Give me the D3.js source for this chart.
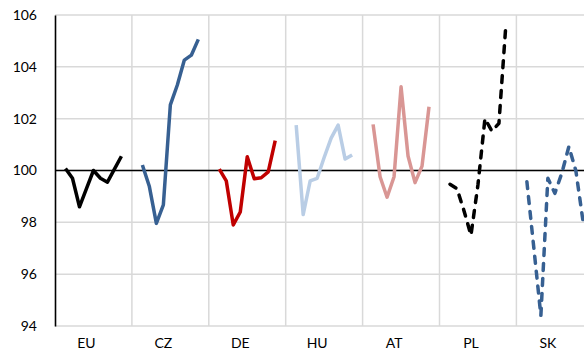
<!DOCTYPE html>
<html>
<head>
<meta charset="utf-8">
<script src="https://cdn.jsdelivr.net/npm/d3@7"></script>
<style>
  html, body { margin: 0; padding: 0; background: #fff; }
  svg { display: block; font-family: Lato, "Open Sans", sans-serif; }
</style>
</head>
<body>
<svg id="chart"></svg>
<script>
// Panels (countries) and their 9 observations each
const groups = ['EU', 'CZ', 'DE', 'HU', 'AT', 'PL', 'SK'];

const euValues = [100.08, 99.7, 98.6, 99.3, 100.0, 99.7, 99.55, 100.05, 100.55];
const czValues = [100.21, 99.38, 97.96, 98.67, 102.53, 103.3, 104.26, 104.45, 105.06];
const deValues = [100.05, 99.6, 97.9, 98.4, 100.53, 99.68, 99.72, 99.95, 101.15];
const huValues = [101.75, 98.3, 99.6, 99.7, 100.5, 101.25, 101.75, 100.44, 100.6];
const atValues = [101.78, 99.76, 98.97, 99.76, 103.23, 100.56, 99.53, 100.17, 102.46];
const plValues = [99.47, 99.3, 98.45, 97.5, 99.45, 102.0, 101.52, 101.82, 105.64];
const skValues = [99.57, 97.0, 94.4, 99.7, 99.12, 99.9, 100.92, 100.0, 98.1];

const yTicks = [94, 96, 98, 100, 102, 104, 106];

const series = [
    { key: 'EU', values: euValues, color: '#000000', dashed: false },
    { key: 'CZ', values: czValues, color: '#376092', dashed: false },
    { key: 'DE', values: deValues, color: '#C00000', dashed: false },
    { key: 'HU', values: huValues, color: '#B9CDE5', dashed: false },
    { key: 'AT', values: atValues, color: '#D99694', dashed: false },
    { key: 'PL', values: plValues, color: '#000000', dashed: true },
    { key: 'SK', values: skValues, color: '#376092', dashed: true }
];

const W = 584, H = 356;
const M = { left: 55, top: 15, bottom: 30 };
const panelW = 76.9;
const SLOTS = 11;   // 9 points plus an empty slot on each side

const svg = d3.select('#chart').attr('width', W).attr('height', H);

const x = d3.scaleBand()
    .domain(groups)
    .range([M.left, M.left + groups.length * panelW]);

const slot = d3.scaleBand()
    .domain(d3.range(SLOTS))
    .range([0, panelW]);

const y = d3.scaleLinear()
    .domain([94, 106])
    .range([H - M.bottom, M.top]);

const px = (g, i) => x(g) + slot(i + 1) + slot.bandwidth() / 2;

// horizontal grid
svg.append('g')
    .selectAll('line')
    .data(yTicks)
    .join('line')
    .attr('x1', M.left).attr('x2', W)
    .attr('y1', d => y(d)).attr('y2', d => y(d))
    .attr('stroke', '#D9D9D9')
    .attr('stroke-width', 1.5);

// vertical separators between panels
svg.append('g')
    .selectAll('line')
    .data(groups.slice(1))
    .join('line')
    .attr('x1', d => x(d)).attr('x2', d => x(d))
    .attr('y1', y(106)).attr('y2', y(94))
    .attr('stroke', '#D9D9D9')
    .attr('stroke-width', 1.5);

// reference line at 100
svg.append('line')
    .attr('x1', M.left).attr('x2', W)
    .attr('y1', y(100)).attr('y2', y(100))
    .attr('stroke', '#000')
    .attr('stroke-width', 1.6);

// y axis
svg.append('g')
    .attr('transform', `translate(${M.left},0)`)
    .call(d3.axisLeft(y).tickValues(yTicks).tickSize(0).tickPadding(18))
    .call(a => a.select('.domain').attr('stroke', '#000').attr('stroke-width', 1.6))
    .call(a => a.selectAll('text')
        .attr('font-size', 14)
        .attr('font-family', 'Lato, sans-serif')
        .attr('fill', '#000'));

// category labels
svg.append('g')
    .selectAll('text')
    .data(groups)
    .join('text')
    .attr('x', d => px(d, 3))
    .attr('y', H - 8)
    .attr('text-anchor', 'middle')
    .attr('font-size', 14)
    .attr('fill', '#000')
    .text(d => d);

// series lines
const line = d3.line();
svg.append('g')
    .selectAll('path')
    .data(series)
    .join('path')
    .attr('d', s => line(s.values.map((v, i) => [px(s.key, i), y(v)])))
    .attr('fill', 'none')
    .attr('stroke', s => s.color)
    .attr('stroke-width', 3.5)
    .attr('stroke-linejoin', 'round')
    .attr('stroke-linecap', s => s.dashed ? 'round' : 'butt')
    .attr('stroke-dasharray', s => s.dashed ? '7,8' : null);
</script>
</body>
</html>
